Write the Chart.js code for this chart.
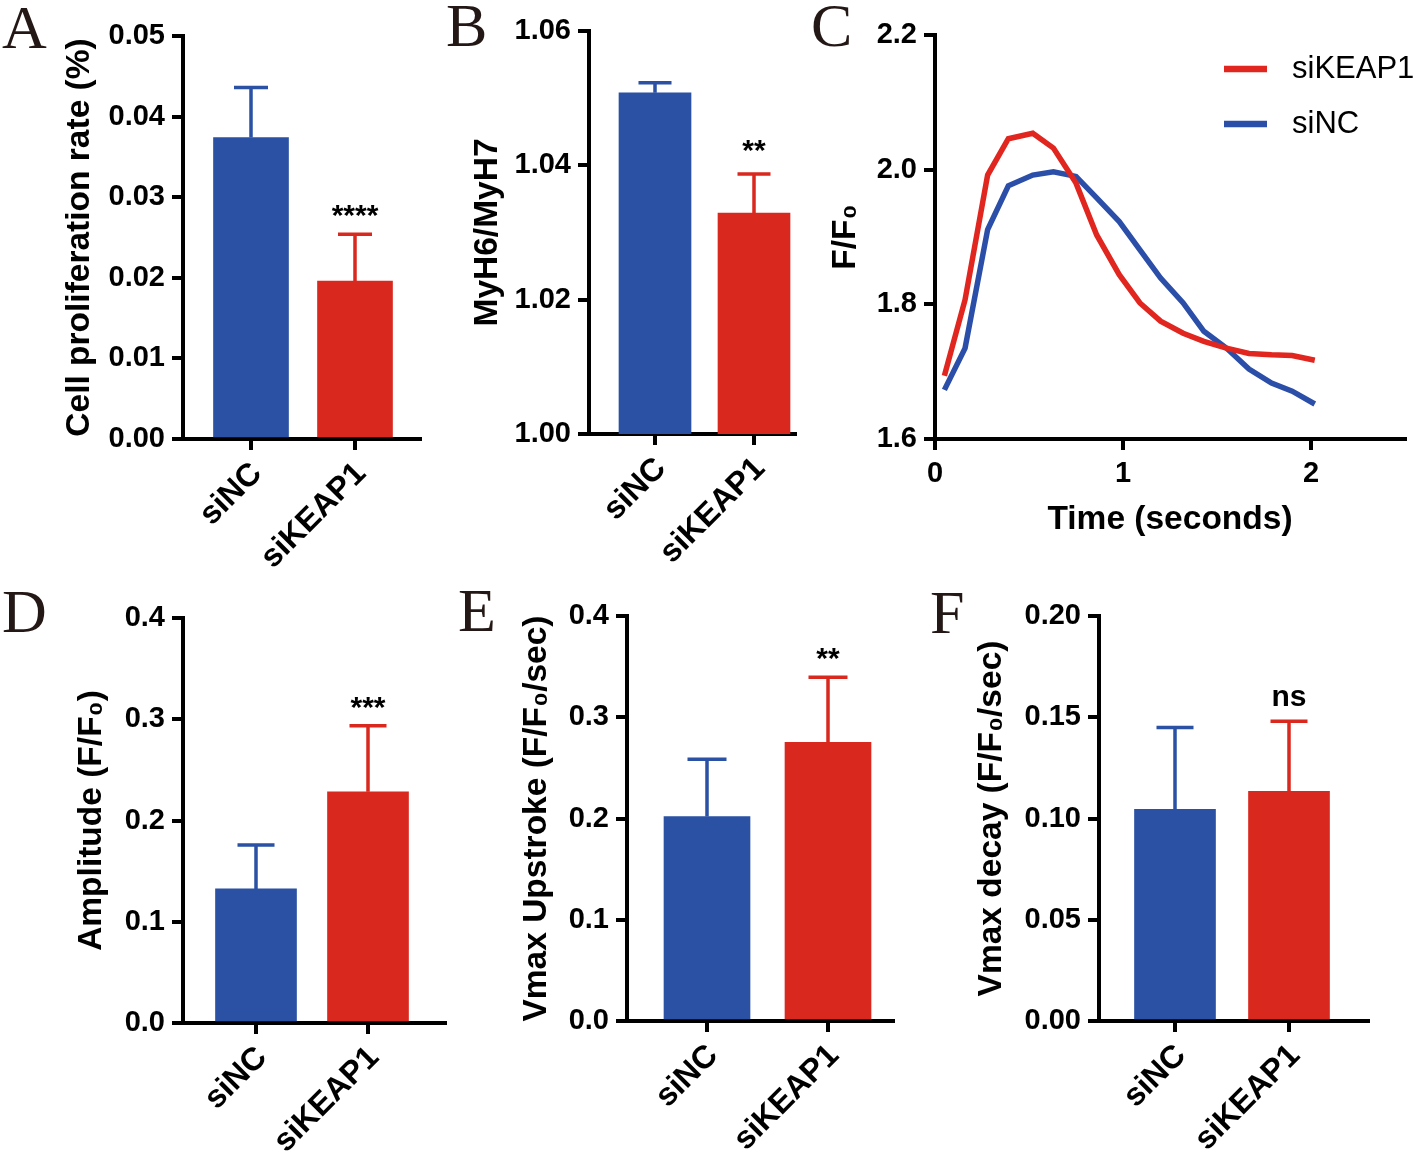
<!DOCTYPE html>
<html>
<head>
<meta charset="utf-8">
<script src="https://cdn.jsdelivr.net/npm/chart.js@4.4.1/dist/chart.umd.min.js"></script>
<style>
  html, body { margin: 0; padding: 0; background: #fff; }
  body { width: 1418px; height: 1151px; position: relative; overflow: hidden; }
  canvas { position: absolute; }
  .letter {
    position: absolute;
    font-family: 'Liberation Serif', 'Times New Roman', serif;
    font-size: 62px;
    line-height: 62px;
    color: #231815;
  }
</style>
</head>
<body>
<div class="letter" style="left:2px;top:-4px">A</div>
<div class="letter" style="left:446px;top:-6px">B</div>
<div class="letter" style="left:811px;top:-6px">C</div>
<div class="letter" style="left:2px;top:580px">D</div>
<div class="letter" style="left:458px;top:579px">E</div>
<div class="letter" style="left:930px;top:581px">F</div>

<canvas id="chartA"></canvas>
<canvas id="chartB"></canvas>
<canvas id="chartC"></canvas>
<canvas id="chartD"></canvas>
<canvas id="chartE"></canvas>
<canvas id="chartF"></canvas>

<script>
// groups on the bar charts
const groups = ['siNC', 'siKEAP1'];

// A: cell proliferation rate
const prolifMean = [0.0374, 0.0196];
const prolifSd = [0.0062, 0.0058];
const prolifSig = ['', '****'];
const prolifTicks = [0, 0.01, 0.02, 0.03, 0.04, 0.05];

// B: MyH6/MyH7
const myhMean = [1.0508, 1.0329];
const myhSd = [0.0015, 0.0058];
const myhSig = ['', '**'];
const myhTicks = [1.00, 1.02, 1.04, 1.06];

// C: calcium transient traces
const timeSec = [0.05, 0.16, 0.28, 0.39, 0.52, 0.63, 0.75, 0.86, 0.98, 1.09, 1.20, 1.32, 1.43, 1.55, 1.67, 1.79, 1.90, 2.02];
const keapTrace = [1.694, 1.807, 1.992, 2.046, 2.054, 2.032, 1.980, 1.903, 1.844, 1.802, 1.775, 1.757, 1.745, 1.735, 1.727, 1.725, 1.724, 1.717];
const ncTrace = [1.673, 1.735, 1.911, 1.976, 1.992, 1.997, 1.990, 1.958, 1.923, 1.881, 1.839, 1.802, 1.760, 1.735, 1.704, 1.683, 1.671, 1.652];
const traceYTicks = [1.6, 1.8, 2.0, 2.2];
const timeTicks = [0, 1, 2];

// D: amplitude
const ampMean = [0.1324, 0.2283];
const ampSd = [0.0435, 0.0652];
const ampSig = ['', '***'];
const ampTicks = [0, 0.1, 0.2, 0.3, 0.4];

// E: Vmax upstroke
const upMean = [0.2020, 0.2752];
const upSd = [0.0564, 0.0644];
const upSig = ['', '**'];
const upTicks = [0, 0.1, 0.2, 0.3, 0.4];

// F: Vmax decay
const decayMean = [0.1045, 0.1134];
const decaySd = [0.0405, 0.0346];
const decaySig = ['', 'ns'];
const decayTicks = [0, 0.05, 0.10, 0.15, 0.20];

const BLUE = '#2a51a3';
const RED = '#d9291f';
const LINE_BLUE = '#2b4fa8';
const LINE_RED = '#e0261f';
const FONT = "'Liberation Sans', Arial, Helvetica, sans-serif";
const TICK_FONT = { family: FONT, size: 29, weight: 'bold' };
const CAT_FONT = { family: FONT, size: 32, weight: 'bold' };
const TITLE_FONT = { family: FONT, size: 33.5, weight: 'bold', lineHeight: 1 };
const AXIS_W = 4;

function place(canvas, left, top, width, height) {
    canvas.width = width;
    canvas.height = height;
    canvas.style.left = left + 'px';
    canvas.style.top = top + 'px';
    canvas.style.width = width + 'px';
    canvas.style.height = height + 'px';
}

function axisGrid() {
    return {
        drawOnChartArea: false,
        drawTicks: true,
        tickLength: 11,
        color: '#000',
        lineWidth: AXIS_W,
        offset: false
    };
}

// error bars (mean + SD, upward only) and significance marks
const errorBars = {
    id: 'errorBars',
    afterDatasetsDraw(chart, args, opts) {
        const { ctx, scales: { x, y } } = chart;
        const ds = chart.data.datasets[0];
        ctx.save();
        opts.sd.forEach(function(sd, i) {
            const px = x.getPixelForValue(i);
            const yTop = y.getPixelForValue(ds.data[i].y);
            const yCap = y.getPixelForValue(ds.data[i].y + sd);
            ctx.strokeStyle = ds.backgroundColor[i];
            ctx.lineWidth = 3.5;
            ctx.beginPath();
            ctx.moveTo(px, yTop);
            ctx.lineTo(px, yCap);
            ctx.moveTo(px - opts.cap / 2, yCap);
            ctx.lineTo(px + opts.cap / 2, yCap);
            ctx.stroke();

            const label = opts.sig[i];
            if (label) {
                ctx.fillStyle = '#000';
                ctx.font = 'bold 30px ' + FONT;
                ctx.textAlign = 'center';
                ctx.textBaseline = 'alphabetic';
                const m = ctx.measureText(label);
                const mid = yCap - opts.gap;
                ctx.fillText(label, px, mid + (m.actualBoundingBoxAscent - m.actualBoundingBoxDescent) / 2);
            }
        });
        ctx.restore();
    }
};

function barPanel(id, g, means, sds, sig, yTicks, decimals, title) {
    const canvas = document.getElementById(id);
    const padTop = 30, padRight = 6, bottomH = 150;
    const left = Math.round(g.titleCx - TITLE_FONT.size / 2);
    const top = g.topY - padTop;
    const width = g.rightX + padRight - left;
    const height = g.baseY + bottomH - top;
    place(canvas, left, top, width, height);

    const unit = g.tick1 - g.tick0;
    const xMin = (g.axisX - g.tick0) / unit;
    const xMax = (g.rightX - g.tick0) / unit;

    return new Chart(canvas, {
        type: 'bar',
        data: {
            datasets: [{
                data: means.map(function(m, i) { return { x: i, y: m }; }),
                backgroundColor: [BLUE, RED],
                borderWidth: 0,
                barThickness: g.barW
            }]
        },
        options: {
            responsive: false,
            animation: false,
            layout: { padding: { top: padTop, right: padRight, left: 0, bottom: 0 } },
            plugins: {
                legend: { display: false },
                tooltip: { enabled: false },
                errorBars: { sd: sds, sig: sig, cap: g.cap, gap: g.gap || 23 }
            },
            scales: {
                x: {
                    type: 'linear',
                    min: xMin,
                    max: xMax,
                    offset: false,
                    afterBuildTicks: function(s) { s.ticks = groups.map(function(_, i) { return { value: i }; }); },
                    afterFit: function(s) { s.height = bottomH; },
                    grid: axisGrid(),
                    border: { color: '#000', width: AXIS_W },
                    ticks: {
                        color: '#000',
                        font: CAT_FONT,
                        minRotation: 45,
                        maxRotation: 45,
                        autoSkip: false,
                        padding: 5,
                        labelOffset: 6,
                        callback: function(v) { return groups[v]; }
                    }
                },
                y: {
                    type: 'linear',
                    min: yTicks[0],
                    max: yTicks[yTicks.length - 1],
                    afterBuildTicks: function(s) { s.ticks = yTicks.map(function(v) { return { value: v }; }); },
                    afterFit: function(s) { s.width = g.axisX - left; },
                    grid: axisGrid(),
                    border: { color: '#000', width: AXIS_W },
                    ticks: {
                        color: '#000',
                        font: TICK_FONT,
                        padding: 7,
                        callback: function(v) { return Number(v).toFixed(decimals); }
                    },
                    title: { display: true, text: title, color: '#000', font: TITLE_FONT, padding: 0 }
                }
            }
        },
        plugins: [errorBars]
    });
}

barPanel('chartA', { axisX: 183, topY: 36, baseY: 439, rightX: 420, titleCx: 80, tick0: 251, tick1: 355, barW: 75, cap: 34 },
    prolifMean, prolifSd, prolifSig, prolifTicks, 2, 'Cell proliferation rate (%)');
barPanel('chartB', { axisX: 589, topY: 31, baseY: 434, rightX: 795, titleCx: 488, tick0: 655, tick1: 754, barW: 72, cap: 33, gap: 28 },
    myhMean, myhSd, myhSig, myhTicks, 2, 'MyH6/MyH7');
barPanel('chartD', { axisX: 183, topY: 618, baseY: 1023, rightX: 445, titleCx: 92, tick0: 256, tick1: 368, barW: 81, cap: 37 },
    ampMean, ampSd, ampSig, ampTicks, 1, 'Amplitude (F/F\u2080)');
barPanel('chartE', { axisX: 627, topY: 616, baseY: 1021, rightX: 893, titleCx: 537, tick0: 707, tick1: 828, barW: 86, cap: 39 },
    upMean, upSd, upSig, upTicks, 1, 'Vmax Upstroke (F/F\u2080/sec)');
barPanel('chartF', { axisX: 1099, topY: 616, baseY: 1021, rightX: 1368, titleCx: 992, tick0: 1175, tick1: 1289, barW: 81, cap: 37 },
    decayMean, decaySd, decaySig, decayTicks, 2, 'Vmax decay (F/F\u2080/sec)');

// legend drawn inside the plot area, top right
const insideLegend = {
    id: 'insideLegend',
    afterDraw(chart) {
        const { ctx, chartArea } = chart;
        ctx.save();
        chart.data.datasets.forEach(function(ds, i) {
            const y = chartArea.top + 34 + i * 55;
            ctx.strokeStyle = ds.borderColor;
            ctx.lineWidth = 6.5;
            ctx.beginPath();
            ctx.moveTo(chartArea.right - 181, y);
            ctx.lineTo(chartArea.right - 138, y);
            ctx.stroke();
            ctx.fillStyle = '#000';
            ctx.font = '31px ' + FONT;
            ctx.textAlign = 'left';
            ctx.textBaseline = 'middle';
            ctx.fillText(ds.label, chartArea.right - 113, y);
        });
        ctx.restore();
    }
};

(function() {
    const canvas = document.getElementById('chartC');
    const g = { axisX: 935, topY: 35, baseY: 439, rightX: 1405, titleCx: 846 };
    const left = Math.round(g.titleCx - TITLE_FONT.size / 2);
    const padTop = 30;
    const top = g.topY - padTop;
    const width = 1418 - left;
    const padRight = 1418 - g.rightX;
    const bottomH = 98;
    const height = g.baseY + bottomH - top;
    place(canvas, left, top, width, height);

    new Chart(canvas, {
        type: 'line',
        data: {
            datasets: [{
                label: 'siKEAP1',
                data: timeSec.map(function(t, i) { return { x: t, y: keapTrace[i] }; }),
                borderColor: LINE_RED,
                borderWidth: 5.5,
                pointRadius: 0,
                tension: 0,
                fill: false
            }, {
                label: 'siNC',
                data: timeSec.map(function(t, i) { return { x: t, y: ncTrace[i] }; }),
                borderColor: LINE_BLUE,
                borderWidth: 5.5,
                pointRadius: 0,
                tension: 0,
                fill: false
            }]
        },
        options: {
            responsive: false,
            animation: false,
            layout: { padding: { top: padTop, right: padRight, left: 0, bottom: 0 } },
            plugins: { legend: { display: false }, tooltip: { enabled: false } },
            scales: {
                x: {
                    type: 'linear',
                    min: 0,
                    max: 2.5,
                    afterBuildTicks: function(s) { s.ticks = timeTicks.map(function(v) { return { value: v }; }); },
                    afterFit: function(s) { s.height = bottomH; },
                    grid: axisGrid(),
                    border: { color: '#000', width: AXIS_W },
                    ticks: { color: '#000', font: TICK_FONT, minRotation: 0, maxRotation: 0, padding: 7,
                        callback: function(v) { return String(v); } },
                    title: { display: true, text: 'Time (seconds)', color: '#000', font: TITLE_FONT, padding: 0 }
                },
                y: {
                    type: 'linear',
                    min: traceYTicks[0],
                    max: traceYTicks[traceYTicks.length - 1],
                    afterBuildTicks: function(s) { s.ticks = traceYTicks.map(function(v) { return { value: v }; }); },
                    afterFit: function(s) { s.width = g.axisX - left; },
                    grid: axisGrid(),
                    border: { color: '#000', width: AXIS_W },
                    ticks: { color: '#000', font: TICK_FONT, padding: 7,
                        callback: function(v) { return Number(v).toFixed(1); } },
                    title: { display: true, text: 'F/F\u2080', color: '#000', font: TITLE_FONT, padding: 0 }
                }
            }
        },
        plugins: [insideLegend]
    });
})();
</script>
</body>
</html>
